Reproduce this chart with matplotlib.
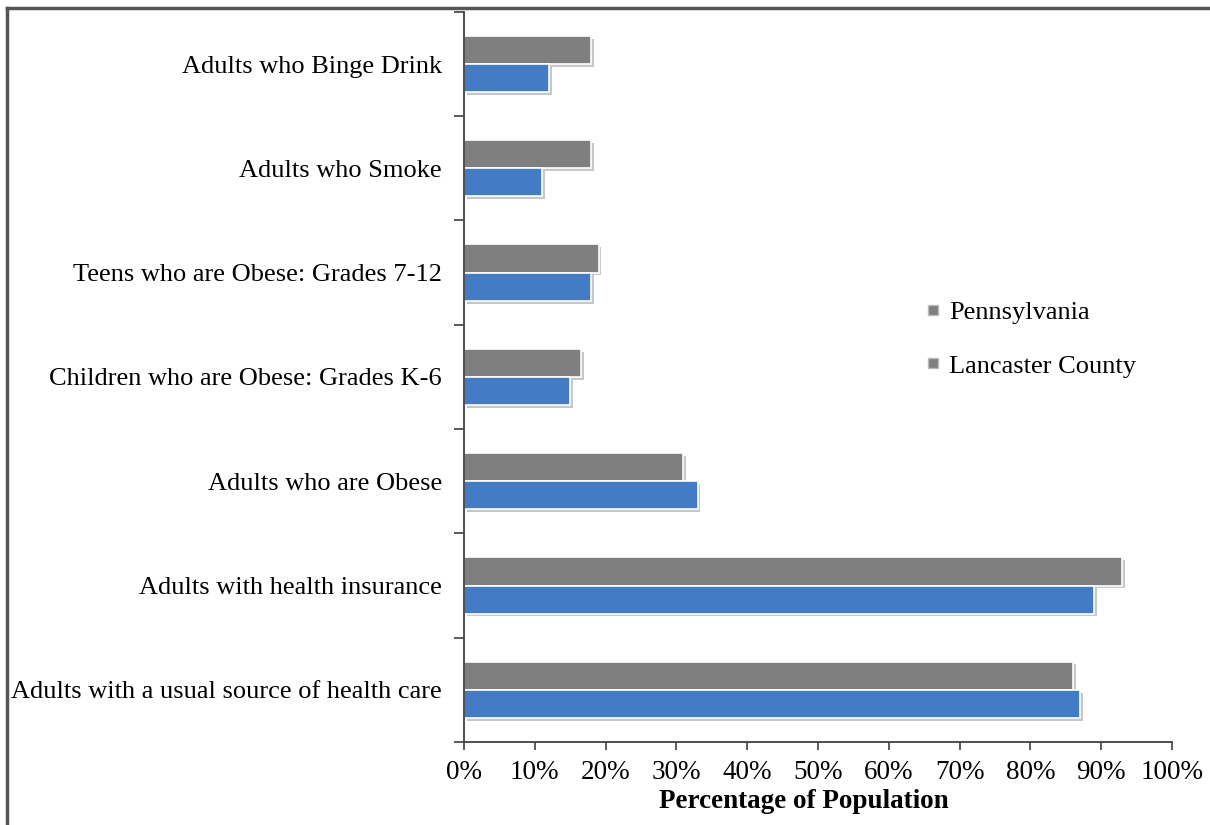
import matplotlib

matplotlib.use("Agg")
import matplotlib.pyplot as plt
import matplotlib.patheffects as pe
from matplotlib.lines import Line2D
import numpy as np

plt.rcParams["font.family"] = ["Liberation Serif", "DejaVu Serif"]

# bottom to top
categories = [
    "Adults with a usual source of health care",
    "Adults with health insurance",
    "Adults who are Obese",
    "Children who are Obese: Grades K-6",
    "Teens who are Obese: Grades 7-12",
    "Adults who Smoke",
    "Adults who Binge Drink",
]
pennsylvania = [86, 93, 31, 16.5, 19, 18, 18]
lancaster = [87, 89, 33, 15, 18, 11, 12]
xticks = [0, 10, 20, 30, 40, 50, 60, 70, 80, 90, 100]

GRAY = "#7f7f7f"
BLUE = "#437bc4"

fig = plt.figure(figsize=(12.1, 8.25), dpi=100)
ax = fig.add_axes([0.3835, 0.1006, 0.585, 0.885])

y = np.arange(len(categories))
h = 0.27
shadow = [pe.SimplePatchShadow(offset=(2, -2), alpha=0.25), pe.Normal()]
ax.barh(y + h / 2, pennsylvania, height=h, color=GRAY, edgecolor="white",
        linewidth=1.2, path_effects=shadow)
ax.barh(y - h / 2, lancaster, height=h, color=BLUE, edgecolor="white",
        linewidth=1.2, path_effects=shadow)

ax.set_xlim(0, 100)
ax.set_ylim(-0.5, len(categories) - 0.5)
ax.set_xticks(xticks)
ax.set_xticklabels([f"{v}%" for v in xticks], fontsize=19.5)
ax.set_yticks(y)
ax.set_yticklabels(categories, fontsize=19)
ax.tick_params(axis="y", length=0, pad=16)
ax.set_yticks(np.arange(-0.5, len(categories), 1.0), minor=True)
ax.tick_params(axis="y", which="minor", length=7, width=1.2, color="#404040")
ax.tick_params(axis="x", length=6, width=1.2, color="#404040", pad=7)

for side in ("top", "right"):
    ax.spines[side].set_visible(False)
for side in ("left", "bottom"):
    ax.spines[side].set_color("#404040")
    ax.spines[side].set_linewidth(1.3)

ax.set_xlabel("Percentage of Population", fontsize=19.5, fontweight="bold",
              labelpad=9)
ax.xaxis.set_label_coords(0.48, -0.065)

handles = [
    Line2D([], [], marker="s", linestyle="none", markersize=7,
           markerfacecolor=GRAY, markeredgecolor="#bbbbbb"),
    Line2D([], [], marker="s", linestyle="none", markersize=7,
           markerfacecolor=GRAY, markeredgecolor="#bbbbbb"),
]
ax.legend(handles, ["Pennsylvania", "Lancaster County"], loc="center left",
          bbox_to_anchor=(0.62, 0.552), frameon=False, fontsize=19,
          handlelength=0.5, handletextpad=0.35, labelspacing=1.15)

# page frame (top and left edges)
fig.add_artist(Line2D([0.006, 1.0], [0.99, 0.99], color="#555555", lw=2.5))
fig.add_artist(Line2D([0.006, 0.006], [0.0, 0.99], color="#555555", lw=2.5))

fig.savefig("out.png", dpi=100)
